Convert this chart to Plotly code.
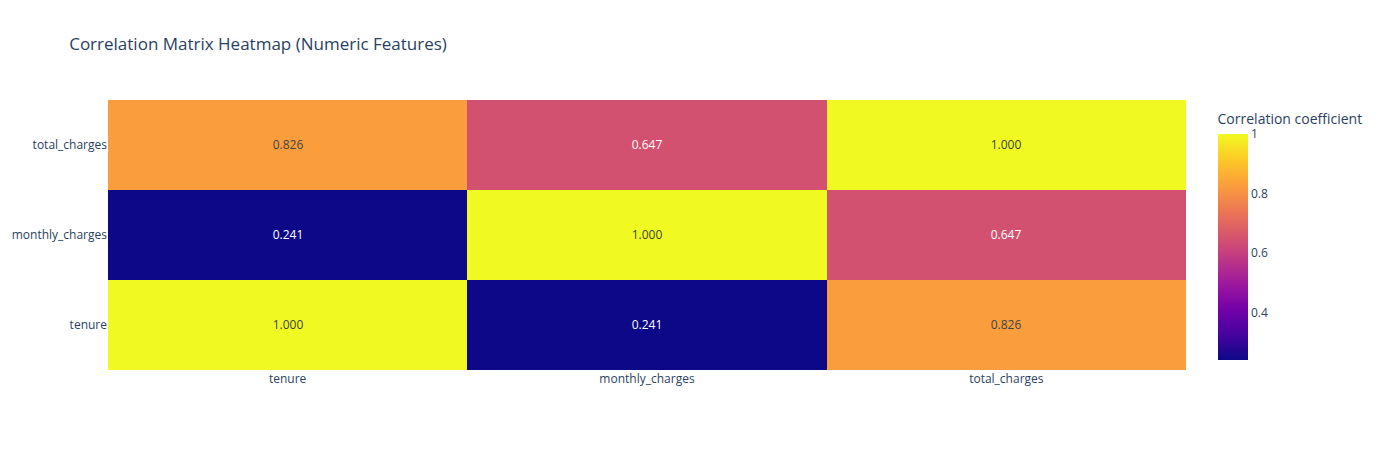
import plotly.graph_objects as go

features = ["tenure", "monthly_charges", "total_charges"]
corr_tenure = [1.000, 0.241, 0.826]
corr_monthly = [0.241, 1.000, 0.647]
corr_total = [0.826, 0.647, 1.000]

z = [corr_tenure, corr_monthly, corr_total]

fig = go.Figure(
    go.Heatmap(
        z=z,
        x=features,
        y=features,
        colorscale="Plasma",
        texttemplate="%{z:.3f}",
        colorbar=dict(title=dict(text="Correlation coefficient")),
    )
)
fig.update_layout(
    title=dict(text="Correlation Matrix Heatmap (Numeric Features)"),
    width=1384,
    height=450,
    template="plotly_white",
)
fig.write_html(
    "out.html",
    config={"displayModeBar": False},
    post_script="document.body.style.margin='0';",
)
